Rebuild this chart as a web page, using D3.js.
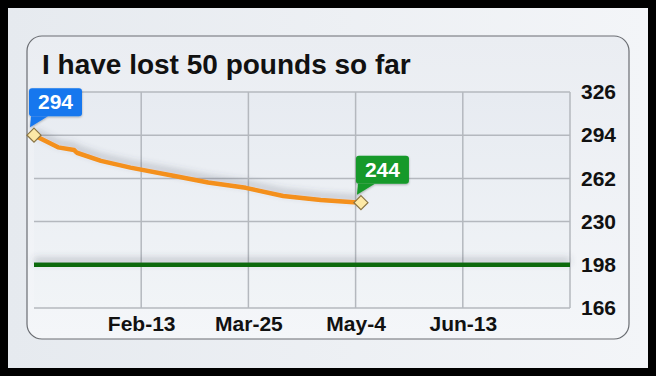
<!DOCTYPE html>
<html>
<head>
  <title>I have lost 50 pounds so far</title>
  <script src="https://d3js.org/d3.v7.min.js"></script>
  <style>
    body { margin: 0; background: #000; }
    svg { display: block; font-family: "Liberation Sans", Arial, sans-serif; }
    .tick text { font-family: "Liberation Sans", Arial, sans-serif; font-weight: bold; fill: #111; }
  </style>
</head>
<body>
  <svg id="chart" width="656" height="376"></svg>

  <script>
    // weigh-in dates and weights
    var dates = ["2013-01-04", "2013-01-13", "2013-01-19", "2013-01-20", "2013-01-29", "2013-02-09",
                 "2013-02-25", "2013-03-10", "2013-03-24", "2013-04-07", "2013-04-21", "2013-05-06"];
    var weights = [294, 285, 283, 281, 275, 270, 264, 259, 255, 249, 246, 244];
    var goal = 198;
    var xTicks = ["2013-02-13", "2013-03-25", "2013-05-04", "2013-06-13"];
    var yTicks = [166, 198, 230, 262, 294, 326];
    var xDomain = ["2013-01-04", "2013-07-23"];

    var parse = d3.timeParse("%Y-%m-%d");
    var data = dates.map(function(d, i) { return { date: parse(d), value: weights[i] }; });

    var svg = d3.select("#chart");
    var defs = svg.append("defs");

    var bg = defs.append("linearGradient").attr("id", "bg").attr("x1", 0).attr("y1", 0).attr("x2", 1).attr("y2", 0);
    bg.append("stop").attr("offset", "0%").attr("stop-color", "#e6eaef");
    bg.append("stop").attr("offset", "100%").attr("stop-color", "#f3f5f8");

    var card = defs.append("linearGradient").attr("id", "card").attr("x1", 0).attr("y1", 0).attr("x2", 0).attr("y2", 1);
    card.append("stop").attr("offset", "0%").attr("stop-color", "#eaedf2");
    card.append("stop").attr("offset", "100%").attr("stop-color", "#f4f6f9");

    var plotBg = defs.append("linearGradient").attr("id", "plotbg").attr("x1", 0).attr("y1", 0).attr("x2", 0).attr("y2", 1);
    plotBg.append("stop").attr("offset", "0%").attr("stop-color", "#e7ebf1");
    plotBg.append("stop").attr("offset", "100%").attr("stop-color", "#f1f4f7");

    var shadow = defs.append("filter").attr("id", "shadow").attr("filterUnits", "userSpaceOnUse")
      .attr("x", 0).attr("y", 0).attr("width", 656).attr("height", 376);
    shadow.append("feDropShadow").attr("dx", 0).attr("dy", -4).attr("stdDeviation", 3.5)
      .attr("flood-color", "#4a5060").attr("flood-opacity", 0.35);

    var boxShadow = defs.append("filter").attr("id", "boxshadow")
      .attr("x", "-20%").attr("y", "-20%").attr("width", "140%").attr("height", "150%");
    boxShadow.append("feDropShadow").attr("dx", 0).attr("dy", 1).attr("stdDeviation", 1)
      .attr("flood-color", "#000").attr("flood-opacity", 0.3);

    // outer frame
    svg.append("rect").attr("x", 8).attr("y", 8).attr("width", 640).attr("height", 360).attr("fill", "url(#bg)");
    svg.append("rect").attr("x", 27).attr("y", 36).attr("width", 602).attr("height", 303)
      .attr("rx", 15).attr("fill", "url(#card)").attr("stroke", "#6a6d72").attr("stroke-width", 1.2);

    svg.append("text").attr("x", 42).attr("y", 74)
      .attr("font-size", 28).attr("font-weight", "bold").attr("fill", "#111")
      .text("I have lost 50 pounds so far");

    var plotL = 34, plotR = 570, plotT = 92, plotB = 308;

    var x = d3.scaleTime().domain(xDomain.map(parse)).range([plotL, plotR]);
    var y = d3.scaleLinear().domain([166, 326]).range([plotB, plotT]);

    svg.append("rect").attr("x", plotL).attr("y", plotT).attr("width", plotR - plotL).attr("height", plotB - plotT)
      .attr("fill", "url(#plotbg)");

    // grid
    var grid = svg.append("g").attr("stroke", "#b4b8be").attr("stroke-width", 1.5);
    grid.selectAll(".hg").data(yTicks).join("line")
      .attr("x1", plotL).attr("x2", plotR)
      .attr("y1", function(d) { return y(d); }).attr("y2", function(d) { return y(d); });
    grid.selectAll(".vg").data(xTicks.map(parse).concat([x.domain()[1]])).join("line")
      .attr("x1", function(d) { return x(d); }).attr("x2", function(d) { return x(d); })
      .attr("y1", plotT).attr("y2", plotB);

    // axes
    var xAxis = d3.axisBottom(x).tickValues(xTicks.map(parse)).tickFormat(d3.timeFormat("%b-%-d")).tickSize(0).tickPadding(0);
    svg.append("g").attr("transform", "translate(0,324)").call(xAxis)
      .call(function(g) { g.select(".domain").remove(); })
      .selectAll("text").attr("font-size", 21).attr("dy", "0.35em").attr("y", 0);

    var yAxis = d3.axisRight(y).tickValues(yTicks).tickSize(0).tickPadding(0);
    svg.append("g").attr("transform", "translate(581,0)").call(yAxis)
      .call(function(g) { g.select(".domain").remove(); })
      .selectAll("text").attr("font-size", 21);

    // goal line
    svg.append("line").attr("x1", plotL).attr("x2", plotR)
      .attr("y1", y(goal)).attr("y2", y(goal))
      .attr("stroke", "#0c6a10").attr("stroke-width", 4.5).attr("filter", "url(#shadow)");

    // weight line
    var line = d3.line().x(function(d) { return x(d.date); }).y(function(d) { return y(d.value); });
    svg.append("path").datum(data).attr("d", line)
      .attr("fill", "none").attr("stroke", "#f4901a").attr("stroke-width", 4.5)
      .attr("stroke-linejoin", "round").attr("filter", "url(#shadow)");

    // callouts at first and last points
    var ends = [
      { d: data[0], color: "#1677ee" },
      { d: data[data.length - 1], color: "#16992a" }
    ];
    var marks = svg.selectAll(".end").data(ends).join("g")
      .attr("transform", function(e) { return "translate(" + x(e.d.date) + "," + y(e.d.value) + ")"; });

    var box = marks.append("g").attr("filter", "url(#boxshadow)");
    box.append("path")
      .attr("d", "M-4,-8 L-3,-19 L14,-19 Z")
      .attr("fill", function(e) { return e.color; });
    box.append("rect")
      .attr("x", -5).attr("y", -47).attr("width", 53).attr("height", 28).attr("rx", 3)
      .attr("fill", function(e) { return e.color; });
    marks.append("text")
      .attr("x", 21.5).attr("y", -26).attr("text-anchor", "middle")
      .attr("font-size", 21).attr("font-weight", "bold").attr("fill", "#fff")
      .text(function(e) { return e.d.value; });
    marks.append("path")
      .attr("d", "M0,-7 L7,0 L0,7 L-7,0 Z")
      .attr("fill", "#fde9a6").attr("stroke", "#8a7443").attr("stroke-width", 1.2);
  </script>
</body>
</html>
